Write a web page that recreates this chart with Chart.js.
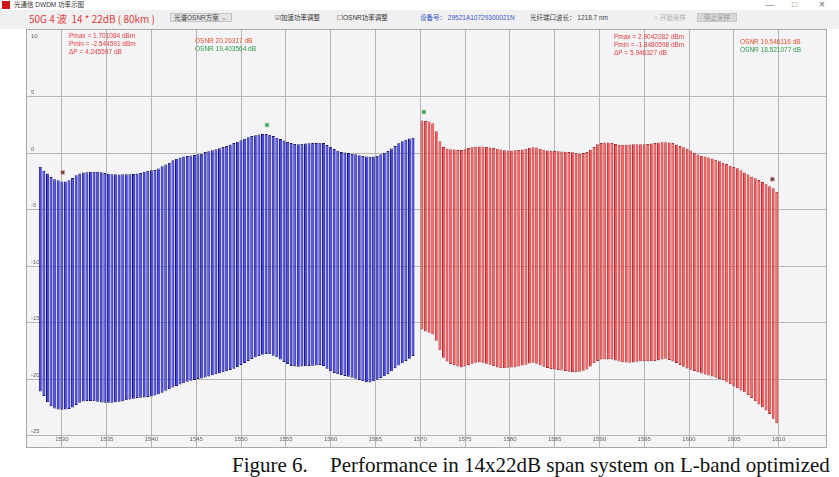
<!DOCTYPE html>
<html>
<head>
<meta charset="utf-8">
<script src="https://cdn.jsdelivr.net/npm/chart.js@4.4.1/dist/chart.umd.min.js"></script>
<style>
  body { margin: 0; width: 839px; height: 477px; background: #fff; overflow: hidden; position: relative;
         font-family: "Liberation Sans", "Noto Sans CJK SC", sans-serif; }
  .abs { position: absolute; white-space: nowrap; }
  #toolbar { position: absolute; left: 0; top: 10px; width: 839px; height: 19px; background: #f0f0f0; }
  .tiny { font-size: 6.5px; line-height: 8px; }
  #plot { position: absolute; left: 26px; top: 29px; }
  .caption { font-family: "Liberation Serif", "DejaVu Serif", serif; font-size: 21px; line-height: 21px; color: #111; }
</style>
</head>
<body>
<!-- window title bar -->
<div class="abs" style="left:2px;top:1px;width:8px;height:8px;background:#d41414;"></div>
<div class="abs tiny" style="left:14px;top:1px;color:#333;">光通信 DWDM 功率示图</div>
<div class="abs" style="left:765px;top:0px;font-size:9px;color:#666;">&#8212;</div>
<div class="abs" style="left:792px;top:0px;font-size:8px;color:#666;">&#9633;</div>
<div class="abs" style="left:819px;top:-1px;font-size:10px;color:#666;">&#215;</div>

<!-- tool bar -->
<div id="toolbar"></div>
<div class="abs" style="left:29px;top:12px;font-size:10px;line-height:13px;color:#e03a3a;font-family:'Noto Sans CJK SC',sans-serif;">50G 4 波&nbsp; 14 * 22dB ( 80km )</div>
<div class="abs tiny" style="left:170px;top:13px;width:62px;height:9px;background:#e4e4e4;border:1px solid #c4c4c4;color:#444;padding-left:3px;box-sizing:border-box;">光谱OSNR方案<span style="position:absolute;right:4px;color:#888;">&#8964;</span></div>
<div class="abs tiny" style="left:275px;top:14px;color:#333;">&#9745;加速功率调整</div>
<div class="abs tiny" style="left:337px;top:14px;color:#333;">&#9744;OSNR功率调整</div>
<div class="abs tiny" style="left:420px;top:14px;color:#3656c8;">设备号： 29521A10729300021N</div>
<div class="abs tiny" style="left:530px;top:14px;color:#444;">光纤端口波长： 1218.7 nm</div>
<div class="abs tiny" style="left:654px;top:14px;color:#aaa;">&#9675; 开始采样</div>
<div class="abs tiny" style="left:697px;top:13px;width:40px;height:9px;background:#d8d8d8;border:1px solid #c8c8c8;color:#999;text-align:center;box-sizing:border-box;">停止采样</div>

<canvas id="plot" width="801" height="419"></canvas>

<!-- readouts printed over the plot -->
<div class="abs tiny" style="left:69px;top:32px;color:#e23c3c;">Pmax = 1.701084 dBm<br>Pmin = -2.544591 dBm<br>ΔP = 4.245597 dB</div>
<div class="abs tiny" style="left:195px;top:37px;color:#e0502e;">OSNR 20.26317 dB</div>
<div class="abs tiny" style="left:195px;top:45px;color:#2e9a46;">OSNR 19.403564 dB</div>
<div class="abs tiny" style="left:614px;top:33px;color:#e23c3c;">Pmax = 2.9042282 dBm<br>Pmin = -1.8480598 dBm<br>ΔP = 5.946327 dB</div>
<div class="abs tiny" style="left:740px;top:38px;color:#e0502e;">OSNR 19.546116 dB</div>
<div class="abs tiny" style="left:740px;top:46px;color:#2e9a46;">OSNR 18.521077 dB</div>

<div class="abs caption" style="left:232px;top:455px;">Figure 6.</div>
<div class="abs caption" style="left:330px;top:455px;">Performance in 14x22dB span system on L-band optimized</div>

<script>
// channel wavelengths (nm) and per-channel power window (dB), C band
const blueNm = [
  1527.6, 1528.0, 1528.4, 1528.8, 1529.2, 1529.6, 1530.0, 1530.4, 1530.8, 1531.2,
  1531.6, 1532.0, 1532.4, 1532.8, 1533.2, 1533.6, 1534.0, 1534.4, 1534.8, 1535.2,
  1535.6, 1536.0, 1536.4, 1536.8, 1537.2, 1537.6, 1538.0, 1538.4, 1538.8, 1539.2,
  1539.6, 1540.0, 1540.4, 1540.8, 1541.2, 1541.6, 1542.0, 1542.4, 1542.8, 1543.2,
  1543.6, 1544.0, 1544.4, 1544.8, 1545.2, 1545.6, 1546.0, 1546.4, 1546.8, 1547.2,
  1547.6, 1548.0, 1548.4, 1548.8, 1549.2, 1549.6, 1550.0, 1550.4, 1550.8, 1551.2,
  1551.6, 1552.0, 1552.4, 1552.8, 1553.2, 1553.6, 1554.0, 1554.4, 1554.8, 1555.2,
  1555.6, 1556.0, 1556.4, 1556.8, 1557.2, 1557.6, 1558.0, 1558.4, 1558.8, 1559.2,
  1559.6, 1560.0, 1560.4, 1560.8, 1561.2, 1561.6, 1562.0, 1562.4, 1562.8, 1563.2,
  1563.6, 1564.0, 1564.4, 1564.8, 1565.2, 1565.6, 1566.0, 1566.4, 1566.8, 1567.2,
  1567.6, 1568.0, 1568.4, 1568.8, 1569.2
];
const blueTop = [
  -1.2, -1.55, -1.8, -2.1, -2.3, -2.4, -2.5, -2.5, -2.4, -2.2,
  -1.95, -1.8, -1.7, -1.68, -1.65, -1.65, -1.65, -1.68, -1.75, -1.82,
  -1.85, -1.87, -1.88, -1.87, -1.86, -1.85, -1.83, -1.8, -1.75, -1.65,
  -1.55, -1.5, -1.48, -1.35, -1.15, -1.0, -0.85, -0.62, -0.48, -0.38,
  -0.3, -0.24, -0.2, -0.16, -0.1, 0.0, 0.1, 0.18, 0.27, 0.36,
  0.45, 0.55, 0.65, 0.78, 0.9, 1.02, 1.15, 1.28, 1.42, 1.52,
  1.6, 1.66, 1.7, 1.7, 1.64, 1.52, 1.38, 1.25, 1.12, 1.0,
  0.9, 0.82, 0.8, 0.84, 0.87, 0.88, 0.9, 0.91, 0.93, 0.9,
  0.72, 0.55, 0.38, 0.22, 0.12, 0.07, 0.03, 0.0, -0.08, -0.17,
  -0.25, -0.3, -0.32, -0.3, -0.22, -0.08, 0.05, 0.2, 0.42, 0.65,
  0.88, 1.05, 1.2, 1.3, 1.38
];
const blueBottom = [
  -21.1, -21.5, -22.05, -22.4, -22.6, -22.7, -22.72, -22.7, -22.65, -22.52,
  -22.3, -22.1, -21.98, -21.93, -21.93, -21.95, -22.0, -22.07, -22.1, -22.1,
  -22.1, -22.06, -22.0, -21.95, -21.88, -21.8, -21.74, -21.68, -21.64, -21.62,
  -21.59, -21.55, -21.45, -21.34, -21.2, -21.04, -20.9, -20.75, -20.6, -20.48,
  -20.36, -20.24, -20.14, -20.08, -20.0, -19.94, -19.85, -19.76, -19.66, -19.57,
  -19.48, -19.4, -19.3, -19.19, -19.08, -18.94, -18.76, -18.58, -18.4, -18.23,
  -18.08, -17.95, -17.84, -17.78, -17.8, -17.93, -18.07, -18.27, -18.48, -18.67,
  -18.84, -18.88, -18.9, -18.89, -18.87, -18.84, -18.82, -18.79, -18.76, -18.85,
  -19.08, -19.3, -19.46, -19.57, -19.65, -19.73, -19.8, -19.88, -19.96, -20.07,
  -20.18, -20.27, -20.3, -20.2, -20.06, -19.9, -19.74, -19.58, -19.3, -19.03,
  -18.8, -18.6, -18.4, -18.2, -17.95
];

// L band
const redNm = [
  1570.2, 1570.6, 1571.0, 1571.4, 1571.8, 1572.2, 1572.6, 1573.0, 1573.4, 1573.8,
  1574.2, 1574.6, 1575.0, 1575.4, 1575.8, 1576.2, 1576.6, 1577.0, 1577.4, 1577.8,
  1578.2, 1578.6, 1579.0, 1579.4, 1579.8, 1580.2, 1580.6, 1581.0, 1581.4, 1581.8,
  1582.2, 1582.6, 1583.0, 1583.4, 1583.8, 1584.2, 1584.6, 1585.0, 1585.4, 1585.8,
  1586.2, 1586.6, 1587.0, 1587.4, 1587.8, 1588.2, 1588.6, 1589.0, 1589.4, 1589.8,
  1590.2, 1590.6, 1591.0, 1591.4, 1591.8, 1592.2, 1592.6, 1593.0, 1593.4, 1593.8,
  1594.2, 1594.6, 1595.0, 1595.4, 1595.8, 1596.2, 1596.6, 1597.0, 1597.4, 1597.8,
  1598.2, 1598.6, 1599.0, 1599.4, 1599.8, 1600.2, 1600.6, 1601.0, 1601.4, 1601.8,
  1602.2, 1602.6, 1603.0, 1603.4, 1603.8, 1604.2, 1604.6, 1605.0, 1605.4, 1605.8,
  1606.2, 1606.6, 1607.0, 1607.4, 1607.8, 1608.2, 1608.6, 1609.0, 1609.4, 1609.8
];
const redTop = [
  2.9, 2.85, 2.8, 2.65, 1.95, 1.05, 0.55, 0.42, 0.36, 0.32,
  0.28, 0.28, 0.36, 0.46, 0.53, 0.57, 0.6, 0.6, 0.56, 0.5,
  0.46, 0.4, 0.33, 0.27, 0.24, 0.24, 0.26, 0.28, 0.32, 0.4,
  0.48, 0.54, 0.5, 0.4, 0.3, 0.24, 0.22, 0.2, 0.18, 0.16,
  0.14, 0.12, 0.08, 0.04, 0.0, 0.02, 0.12, 0.3, 0.55, 0.8,
  0.9, 0.94, 0.95, 0.9, 0.82, 0.76, 0.74, 0.76, 0.78, 0.8,
  0.8, 0.8, 0.8, 0.82, 0.86, 0.9, 0.94, 0.97, 0.98, 0.95,
  0.9, 0.78, 0.65, 0.52, 0.42, 0.25, 0.05, -0.12, -0.22, -0.3,
  -0.38, -0.46, -0.58, -0.72, -0.85, -0.96, -1.1, -1.22, -1.32, -1.5,
  -1.7, -1.88, -2.08, -2.22, -2.36, -2.55, -2.75, -2.92, -3.1, -3.4
];
const redBottom = [
  -15.6, -15.78, -15.9, -16.02, -16.6, -17.45, -18.1, -18.45, -18.66, -18.78,
  -18.88, -18.94, -18.88, -18.76, -18.64, -18.56, -18.5, -18.56, -18.65, -18.73,
  -18.85, -18.97, -19.03, -19.03, -19.0, -18.97, -18.94, -18.88, -18.8, -18.72,
  -18.62, -18.55, -18.65, -18.78, -18.9, -19.02, -19.1, -19.16, -19.2, -19.24,
  -19.29, -19.34, -19.38, -19.4, -19.34, -19.27, -19.15, -18.88, -18.6, -18.4,
  -18.26, -18.24, -18.25, -18.27, -18.35, -18.44, -18.5, -18.53, -18.55, -18.52,
  -18.47, -18.42, -18.42, -18.41, -18.41, -18.4, -18.33, -18.26, -18.2, -18.3,
  -18.43, -18.58, -18.74, -18.9, -19.07, -19.18, -19.28, -19.39, -19.5, -19.6,
  -19.69, -19.78, -19.87, -19.98, -20.1, -20.24, -20.45, -20.65, -20.82, -21.0,
  -21.16, -21.4, -21.68, -21.97, -22.25, -22.5, -22.78, -23.1, -23.5, -23.9
];

// max / min markers
const maxMarkNm = [1552.9, 1570.4];
const maxMarkDb = [2.5, 3.65];
const minMarkNm = [1530.1, 1609.3];
const minMarkDb = [-1.7, -2.3];

const xTicks = [1530, 1535, 1540, 1545, 1550, 1555, 1560, 1565, 1570, 1575, 1580, 1585, 1590, 1595, 1600, 1605, 1610];
const yTicks = [10, 5, 0, -5, -10, -15, -20, -25];

const toBars = (nm, lo, hi) => nm.map((x, i) => ({ x: x, y: [lo[i], hi[i]] }));
const toPoints = (nm, db) => nm.map((x, i) => ({ x: x, y: db[i] }));

// plot background, frame and tick labels drawn inside the plot
const plotDecor = {
    id: "plotDecor",
    beforeDraw(chart) {
        const { ctx, chartArea: a } = chart;
        ctx.save();
        ctx.fillStyle = "#f4f4f6";
        ctx.fillRect(a.left, a.top, a.right - a.left, a.bottom - a.top);
        ctx.restore();
    },
    afterDraw(chart) {
        const { ctx, chartArea: a, scales: { x, y } } = chart;
        ctx.save();
        ctx.strokeStyle = "#a8a8a8";
        ctx.lineWidth = 1;
        ctx.strokeRect(a.left + 0.5, a.top + 0.5, a.right - a.left - 1, a.bottom - a.top - 1);
        ctx.font = '6px "Liberation Sans", sans-serif';
        ctx.fillStyle = "#666";
        ctx.textAlign = "left";
        ctx.textBaseline = "bottom";
        yTicks.forEach(v => ctx.fillText(String(v), a.left + 5, y.getPixelForValue(v) - 1));
        ctx.textAlign = "center";
        ctx.textBaseline = "middle";
        xTicks.forEach(v => ctx.fillText(String(v), x.getPixelForValue(v), a.bottom - 9));
        ctx.restore();
    }
};

const barStyle = {
    grouped: false,
    categoryPercentage: 1,
    barPercentage: 0.85,
    borderSkipped: false,
    inflateAmount: 0,
    borderWidth: { left: 1, top: 1, right: 0, bottom: 1 }
};

new Chart(document.getElementById("plot").getContext("2d"), {
    type: "bar",
    data: {
        datasets: [
            Object.assign({
                label: "C",
                data: toBars(blueNm, blueBottom, blueTop),
                backgroundColor: "#4848e6",
                borderColor: "#18185c"
            }, barStyle),
            Object.assign({
                label: "L",
                data: toBars(redNm, redBottom, redTop),
                backgroundColor: "#f25c5c",
                borderColor: "#a42c2c"
            }, barStyle),
            {
                type: "scatter",
                label: "max",
                data: toPoints(maxMarkNm, maxMarkDb),
                pointStyle: "rect",
                pointRadius: 2.6,
                backgroundColor: "#3f9c58",
                borderColor: "#8fcf9c",
                borderWidth: 0.6
            },
            {
                type: "scatter",
                label: "min",
                data: toPoints(minMarkNm, minMarkDb),
                pointStyle: "rect",
                pointRadius: 2.6,
                backgroundColor: "#74403e",
                borderColor: "#d99a9a",
                borderWidth: 0.6
            }
        ]
    },
    options: {
        responsive: false,
        animation: false,
        devicePixelRatio: 1,
        layout: { padding: 0, autoPadding: false },
        plugins: { legend: { display: false }, tooltip: { enabled: false } },
        scales: {
            x: {
                type: "linear",
                offset: false,
                min: 1526,
                max: 1615.4,
                afterBuildTicks: s => { s.ticks = xTicks.map(v => ({ value: v })); },
                afterFit: s => { s.height = 0; },
                ticks: { display: false, padding: 0 },
                grid: { color: "#b6b6b6", lineWidth: 1, drawTicks: false, offset: false },
                border: { display: false }
            },
            y: {
                min: -26.1,
                max: 11,
                afterBuildTicks: s => { s.ticks = yTicks.map(v => ({ value: v })); },
                afterFit: s => { s.width = 0; },
                ticks: { display: false, padding: 0 },
                grid: {
                    color: c => (c.tick && c.tick.value === 10 ? "rgba(0,0,0,0)" : "#b6b6b6"),
                    lineWidth: 1,
                    drawTicks: false
                },
                border: { display: false }
            }
        }
    },
    plugins: [plotDecor]
});
</script>
</body>
</html>
